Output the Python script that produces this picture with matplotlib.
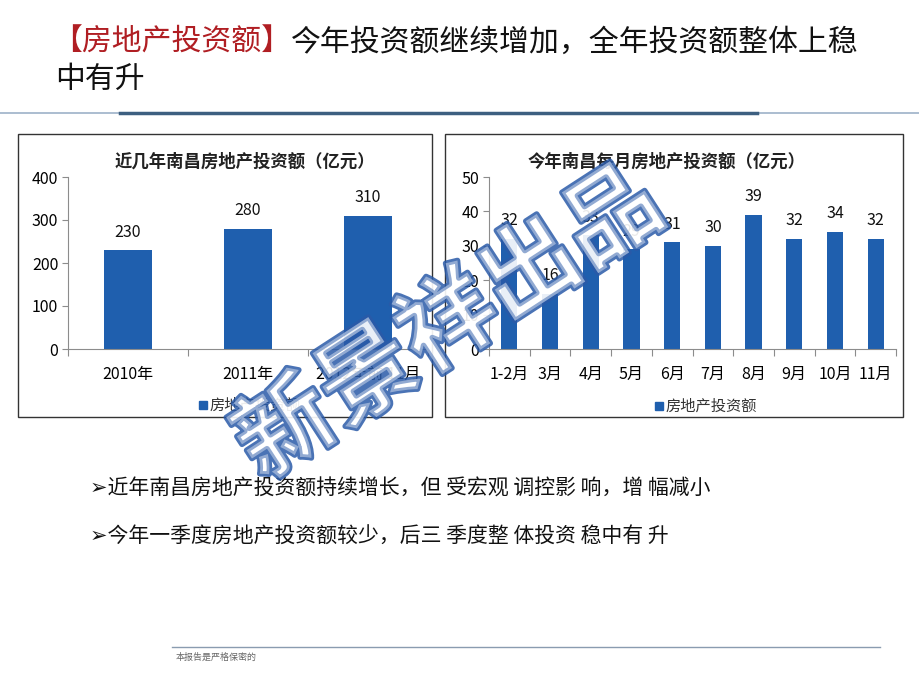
import matplotlib
matplotlib.use("Agg")
import matplotlib.pyplot as plt
import matplotlib.patheffects as pe
from matplotlib.patches import Rectangle
from matplotlib.lines import Line2D

plt.rcParams["font.family"] = ["Noto Sans CJK SC", "DejaVu Sans"]

# data
years = ["2010年", "2011年", "2012年前 11月"]
year_values = [230, 280, 310]
months = ["1-2月", "3月", "4月", "5月", "6月", "7月", "8月", "9月", "10月", "11月"]
month_values = [32, 16, 33, 29, 31, 30, 39, 32, 34, 32]
series_name = "房地产投资额"
left_title = "近几年南昌房地产投资额（亿元）"
right_title = "今年南昌每月房地产投资额（亿元）"
head_red = "【房地产投资额】"
head_black = "今年投资额继续增加，全年投资额整体上稳"
head_line2 = "中有升"
bullets = ["➢近年南昌房地产投资额持续增长，但 受宏观 调控影 响，增 幅减小",
           "➢今年一季度房地产投资额较少，后三 季度整 体投资 稳中有 升"]
footer = "本报告是严格保密的"

W, H = 920, 690
BAR = "#1f5fae"
AXC = "#8c8c8c"


def fx(x):
    return x / W


def fy(y):
    return 1 - y / H


def bar_panel(fig, rect, cats, vals, ymax, step, width, title, title_xy, legend_xy):
    x0, y0, x1, y1 = rect
    ax = fig.add_axes([fx(x0), fy(y1), fx(x1) - fx(x0), fy(y0) - fy(y1)])
    idx = range(len(cats))
    ax.bar(idx, vals, width=width, color=BAR, zorder=2)
    for i, v in zip(idx, vals):
        ax.annotate(str(v), (i, v), xytext=(0, 13), textcoords="offset points",
                    ha="center", va="center", fontsize=11.5, color="#111111")
    ax.set_xlim(-0.5, len(cats) - 0.5)
    ax.set_ylim(0, ymax)
    ax.set_yticks(range(0, ymax + 1, step))
    ax.tick_params(axis="y", labelsize=11.5, length=4, color=AXC, pad=3)
    ax.set_xticks([i - 0.5 for i in range(len(cats) + 1)])
    ax.set_xticklabels([])
    ax.set_xticks(list(idx), minor=True)
    ax.set_xticklabels(cats, minor=True, fontsize=11.5)
    ax.tick_params(axis="x", which="major", length=5, color=AXC)
    ax.tick_params(axis="x", which="minor", length=0, pad=12)
    for s in ("top", "right"):
        ax.spines[s].set_visible(False)
    for s in ("left", "bottom"):
        ax.spines[s].set_color(AXC)
    ax.set_facecolor("none")
    fig.text(fx(title_xy[0]), fy(title_xy[1]), title, ha="center", va="center",
             fontsize=12.5, fontweight="bold", color="#222222")
    fig.patches.append(Rectangle((fx(legend_xy[0]) - 0.012, fy(legend_xy[1]) - 0.006), 0.009, 0.012,
                                 transform=fig.transFigure, color=BAR))
    fig.text(fx(legend_xy[0]), fy(legend_xy[1]), series_name, ha="left", va="center",
             fontsize=11, color="#333333")
    return ax


fig = plt.figure(figsize=(9.2, 6.9), dpi=100, facecolor="white")

# heading
t1 = fig.text(fx(52), fy(42), head_red, ha="left", va="center", fontsize=21.5, color="#b01e23")
fig.canvas.draw()
bb = t1.get_window_extent(renderer=fig.canvas.get_renderer())
fig.text(bb.x1 / W, fy(42), head_black, ha="left", va="center", fontsize=21.5, color="#111111")
fig.text(fx(55), fy(79), head_line2, ha="left", va="center", fontsize=21.5, color="#111111")

# separator lines
fig.add_artist(Line2D([0, 1], [fy(113), fy(113)], transform=fig.transFigure, color="#9db2c8", lw=1.2))
fig.add_artist(Line2D([fx(120), fx(757)], [fy(113), fy(113)], transform=fig.transFigure, color="#3d5f80", lw=2.5))

# chart frames
for x0, y0, x1, y1 in [(18, 134, 432, 417), (445, 134, 903, 417)]:
    fig.patches.append(Rectangle((fx(x0), fy(y1)), fx(x1) - fx(x0), fy(y0) - fy(y1),
                                 transform=fig.transFigure, fill=False, ec="#333333", lw=1))

bar_panel(fig, (68, 177, 428, 349), years, year_values, 400, 100, 0.4,
          left_title, (245, 162), (210, 405))
bar_panel(fig, (489, 177, 896, 349), months, month_values, 50, 10, 0.4,
          right_title, (667, 162), (666, 406))

# bullets
for y, txt in zip([489, 537], bullets):
    fig.text(fx(90), fy(y), txt, ha="left", va="center", fontsize=15, color="#111111")

# footer
fig.add_artist(Line2D([fx(172), fx(880)], [fy(647), fy(647)], transform=fig.transFigure, color="#8a9cb0", lw=1))
fig.text(fx(176), fy(657), footer, ha="left", va="center", fontsize=6.5, color="#666666")

# watermark
fig.text(fx(450), fy(325), "新景祥出品", ha="center", va="center", rotation=33,
         fontsize=70, fontweight="bold", color="white", alpha=0.4, zorder=10,
         path_effects=[pe.Stroke(linewidth=4, foreground="#2a5aa8", alpha=0.85), pe.Normal()])

fig.savefig("out.png", dpi=100, facecolor="white")
